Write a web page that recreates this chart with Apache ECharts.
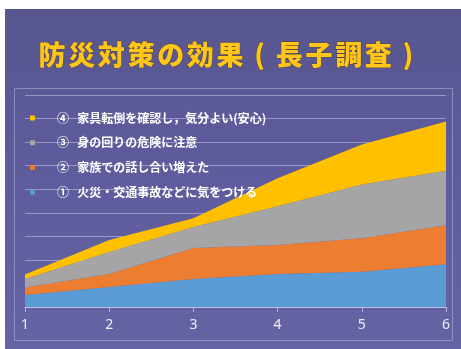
<!DOCTYPE html>
<html>
<head>
<meta charset="utf-8">
<script src="https://cdn.jsdelivr.net/npm/echarts@6/dist/echarts.min.js"></script>
<style>
html,body{margin:0;padding:0;background:#ffffff;}
#c{width:461px;height:349px;}
</style>
</head>
<body>
<div id="c"></div>
<script>
// ---- data ----
const categories = ['1', '2', '3', '4', '5', '6'];
const seriesNames = [
  '①   火災・交通事故などに気をつける',
  '②   家族での話し合い増えた',
  '③   身の回りの危険に注意',
  '④   家具転倒を確認し，気分よい(安心)'
];
const s1 = [5.1, 8.5, 11.9, 14.0, 15.0, 18.2];
const s2 = [3.2, 5.5, 13.1, 12.3, 14.2, 16.5];
const s3 = [3.6, 9.4, 9.0, 16.5, 22.8, 23.1];
const s4 = [1.9, 5.0, 3.7, 11.9, 17.0, 21.0];
const titleText = '防災対策の効果(長子調査)';

const colors = ['#5b9bd5', '#ed7d31', '#a5a5a5', '#ffc000'];
const values = [s1, s2, s3, s4];

const chart = echarts.init(document.getElementById('c'), null, {renderer: 'canvas'});

const graphics = [
  {type: 'rect', z: -10, shape: {x: 5, y: 9, width: 456, height: 340},
   style: {fill: new echarts.graphic.LinearGradient(0, 0, 0, 1, [
     {offset: 0, color: '#58568f'}, {offset: 0.5, color: '#5e5c9d'}, {offset: 1, color: '#6663a5'}])}},
  {type: 'rect', z: -9, shape: {x: 14.5, y: 88.5, width: 438, height: 252},
   style: {fill: 'none', stroke: 'rgba(200,200,240,0.45)', lineWidth: 1}}
];
// title characters spread across
const chars = Array.from(titleText);
const x0 = 52, x1 = 408;
chars.forEach((ch, i) => {
  graphics.push({
    type: 'text', z: 10,
    x: x0 + (x1 - x0) * i / (chars.length - 1), y: 55,
    style: {
      text: ch, fill: '#ffc61a',
      font: '900 27px "Noto Sans CJK JP"',
      align: 'center', verticalAlign: 'middle',
      stroke: 'rgba(90,60,10,0.6)', lineWidth: 1,
      shadowColor: 'rgba(30,20,10,0.9)', shadowOffsetX: 2, shadowOffsetY: 2, shadowBlur: 1
    }
  });
});

const series = values.map((v, i) => ({
  name: seriesNames[i],
  type: 'line',
  stack: 'total',
  data: v,
  symbol: 'none',
  lineStyle: {width: 0},
  areaStyle: {color: colors[i], opacity: 1},
  itemStyle: {color: colors[i]},
  z: 2
}));

chart.setOption({
  animation: false,
  backgroundColor: 'transparent',
  graphic: graphics,
  grid: {left: 25, right: 15, top: 95, bottom: 42, containLabel: false},
  legend: {
    orient: 'vertical',
    left: 25, top: 106,
    data: seriesNames.slice().reverse(),
    icon: 'rect',
    itemWidth: 5, itemHeight: 5,
    itemGap: 10.7,
    textStyle: {
      color: '#ffffff', fontSize: 12, fontWeight: 'bold',
      fontFamily: '"Noto Sans CJK JP"', lineHeight: 14,
      padding: [0, 0, 0, 17]
    },
    selectedMode: false
  },
  xAxis: {
    type: 'category',
    data: categories,
    boundaryGap: false,
    axisLine: {lineStyle: {color: 'rgba(200,200,235,0.8)', width: 1}},
    axisTick: {show: true, length: 5, lineStyle: {color: 'rgba(200,200,235,0.8)'}},
    axisLabel: {color: '#eeeef6', fontSize: 14, margin: 11, fontFamily: '"Noto Sans"'}
  },
  yAxis: {
    type: 'value',
    min: 0, max: 90, interval: 10,
    axisLine: {show: false},
    axisTick: {show: false},
    axisLabel: {show: false},
    splitLine: {lineStyle: {color: 'rgba(200,200,240,0.55)', width: 1}}
  },
  series: series
});
</script>
</body>
</html>
